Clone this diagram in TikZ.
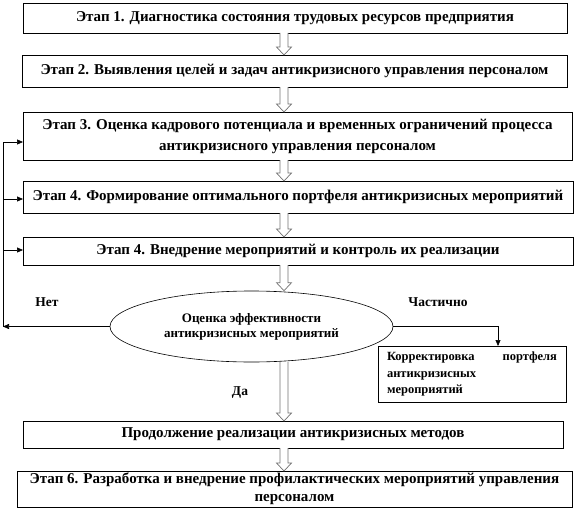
\documentclass[tikz,border=0pt]{standalone}
\usepackage{fontspec}
\setmainfont{Liberation Serif}
\usepackage{tikz}
\usetikzlibrary{calc,arrows.meta,shapes.geometric}

\newcommand{\hollowarrow}[2]{%
  \draw[hollow] ($(#1 -| ax)+(-4,0)$) -- ($(#2 -| ax)+(-4,-8)$) -- ++(-3.5,0)
    -- (#2 -| ax) -- ($(#2 -| ax)+(7.5,-8)$) -- ++(-3.5,0) -- ($(#1 -| ax)+(4,0)$);}

\begin{document}
\begin{tikzpicture}[x=1pt,y=-1pt,
      stage/.style={draw, line width=0.8pt, inner sep=0pt, outer sep=0pt,
             anchor=center, align=center,
             font=\fontsize{15}{21}\selectfont\bfseries},
      hollow/.style={draw=black!55, line width=0.7pt, fill=white},
      link/.style={line width=0.6pt, -{Triangle[length=6pt,width=5pt]}},
      lbl/.style={font=\fontsize{13.5}{15}\selectfont\bfseries},
      ]
      \useasboundingbox (0,0) rectangle (575,519);
      \coordinate (ax) at (284,0);
      \coordinate (lx) at (3,0);

      \node[stage, minimum width=544pt, minimum height=30pt] (s1) at (295,18)
        {Этап 1. Диагностика состояния трудовых ресурсов предприятия};
      \node[stage, minimum width=545pt, minimum height=32pt] (s2) at (294.5,71)
        {Этап 2. Выявления целей и задач антикризисного управления персоналом};
      \node[stage, minimum width=549pt, minimum height=48pt] (s3) at (297.5,136)
        {Этап 3. Оценка кадрового потенциала и временных ограничений процесса\\
         антикризисного управления персоналом};
      \node[stage, minimum width=550pt, minimum height=32pt] (s4) at (298,197)
        {Этап 4. Формирование оптимального портфеля антикризисных мероприятий};
      \node[stage, minimum width=550pt, minimum height=28pt] (s5) at (298,251)
        {Этап 4. Внедрение мероприятий и контроль их реализации};
      \node[draw, ellipse, line width=0.6pt, inner sep=0pt, minimum width=283pt,
            minimum height=71pt, align=center,
            font=\fontsize{13}{15}\selectfont\bfseries] (ev) at (251.5,326.5)
        {Оценка эффективности\\ антикризисных мероприятий};
      \node[stage, minimum width=188pt, minimum height=56pt, align=left,
            text width=170pt, font=\fontsize{12.5}{16.5}\selectfont\bfseries] (kor) at (472,374)
        {Корректировка\hfill портфеля\\ антикризисных\\ мероприятий};
      \node[stage, minimum width=540pt, minimum height=27pt] (s6) at (293,434.5)
        {Продолжение реализации антикризисных методов};
      \node[stage, minimum width=555pt, minimum height=36pt,
            font=\fontsize{15}{18}\selectfont\bfseries] (s7) at (294.5,489)
        {Этап 6. Разработка и внедрение профилактических мероприятий управления\\
         персоналом};

      \node[lbl] (no) at (47,302) {Нет};
      \node[lbl] (part) at (438,302) {Частично};
      \node[lbl] (yes) at (240,393) {Да};

      \hollowarrow{s1.south}{s2.north}
      \hollowarrow{s2.south}{s3.north}
      \hollowarrow{s3.south}{s4.north}
      \hollowarrow{s4.south}{s5.north}
      \hollowarrow{s5.south}{ev.north}
      \path (ev.center -| ax) ++(0,35.5) coordinate (evb);
      \hollowarrow{evb}{s6.north}
      \hollowarrow{s6.south}{s7.north}

      \draw[link] (ev.west) -- (ev.west -| lx);
      \draw[line width=0.6pt] (ev.west -| lx) -- ($(s3.west -| lx)+(0,6)$);
      \draw[link] ($(s3.west -| lx)+(0,6)$) -- ($(s3.west)+(0,6)$);
      \draw[link] ($(s4.west -| lx)+(0,2)$) -- ($(s4.west)+(0,2)$);
      \draw[link] ($(s5.west -| lx)+(0,-1)$) -- ($(s5.west)+(0,-1)$);
      \draw[link] (ev.east) -| ($(kor.north)+(26,0)$);
\end{tikzpicture}
\end{document}
